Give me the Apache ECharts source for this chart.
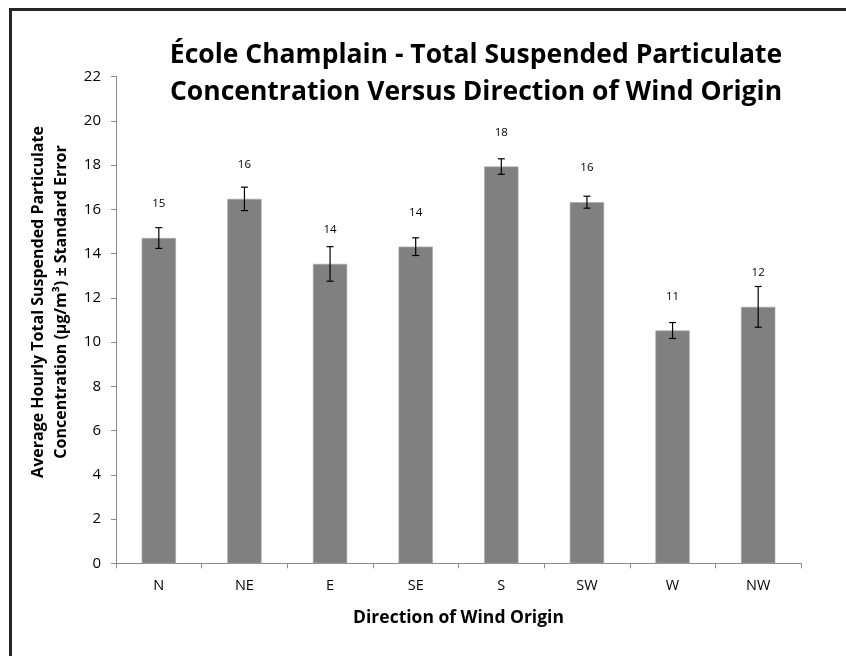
<!DOCTYPE html>
<html>
<head>
<meta charset="utf-8">
<script src="https://cdn.jsdelivr.net/npm/echarts@6/dist/echarts.min.js"></script>
<style>
html,body{margin:0;padding:0;background:#fff;}
#chart{width:846px;height:656px;}
</style>
</head>
<body>
<div id="chart"></div>
<script>
var categories = ['N', 'NE', 'E', 'SE', 'S', 'SW', 'W', 'NW'];
var meanValues = [14.70, 16.47, 13.53, 14.31, 17.93, 16.32, 10.52, 11.59];
var stdErrors = [0.47, 0.53, 0.78, 0.40, 0.35, 0.27, 0.36, 0.92];
var yTicks = [0, 2, 4, 6, 8, 10, 12, 14, 16, 18, 20, 22];

var titleLines = ['École Champlain - Total Suspended Particulate', 'Concentration Versus Direction of Wind Origin'];
var yTitleLines = ['Average Hourly Total Suspended Particulate', 'Concentration (µg/m³) ± Standard Error'];
var xTitle = 'Direction of Wind Origin';

var FONT = '"Open Sans", "DejaVu Sans", sans-serif';

var errData = categories.map(function (c, i) {
  return [i, meanValues[i] - stdErrors[i], meanValues[i] + stdErrors[i]];
});

var chart = echarts.init(document.getElementById('chart'), null, {renderer: 'canvas'});
chart.setOption({
  backgroundColor: '#ffffff',
  animation: false,
  title: {
    text: titleLines.join('\n'),
    left: 471, top: 32, textAlign: 'center',
    textStyle: {fontFamily: FONT, fontWeight: 'bold', fontSize: 26.5, color: '#000', lineHeight: 37}
  },
  grid: {left: 116, right: 45, top: 76.5, bottom: 92.7, containLabel: false},
  xAxis: {
    type: 'category',
    data: categories,
    name: xTitle,
    nameLocation: 'middle',
    nameGap: 46,
    nameTextStyle: {fontFamily: FONT, fontWeight: 'bold', fontSize: 17.5, color: '#000'},
    axisLine: {lineStyle: {color: '#8c8c8c', width: 1}},
    axisTick: {show: true, length: 5, lineStyle: {color: '#8c8c8c'}},
    axisLabel: {fontFamily: FONT, fontSize: 14.5, color: '#000', margin: 15},
    splitLine: {show: false}
  },
  yAxis: {
    type: 'value',
    min: yTicks[0], max: yTicks[yTicks.length - 1], interval: 2,
    axisLine: {show: true, lineStyle: {color: '#8c8c8c', width: 1}},
    axisTick: {show: true, length: 5, lineStyle: {color: '#8c8c8c'}},
    axisLabel: {fontFamily: FONT, fontSize: 15, color: '#000', margin: 15},
    splitLine: {show: false}
  },
  series: [
    {
      type: 'bar',
      data: meanValues,
      barCategoryGap: '60%',
      itemStyle: {color: '#808080', borderColor: '#a6a6a6', borderWidth: 0.6},
      label: {
        show: true, position: 'top', distance: 28,
        fontFamily: FONT, fontSize: 11.5, color: '#000',
        formatter: function (p) { return Math.round(p.value); }
      },
      z: 2
    },
    {
      type: 'custom',
      data: errData,
      z: 5,
      renderItem: function (params, api) {
        var x = api.value(0);
        var lo = api.coord([x, api.value(1)]);
        var hi = api.coord([x, api.value(2)]);
        var hw = 3.5;
        var st = {stroke: '#000', lineWidth: 1.2};
        return {
          type: 'group',
          children: [
            {type: 'line', shape: {x1: hi[0], y1: hi[1], x2: lo[0], y2: lo[1]}, style: st},
            {type: 'line', shape: {x1: hi[0] - hw, y1: hi[1], x2: hi[0] + hw, y2: hi[1]}, style: st},
            {type: 'line', shape: {x1: lo[0] - hw, y1: lo[1], x2: lo[0] + hw, y2: lo[1]}, style: st}
          ]
        };
      }
    }
  ],
  graphic: [
    {
      type: 'rect', left: 8, top: 7, z: -1,
      shape: {x: 0, y: 0, width: 860, height: 680},
      style: {fill: 'none', stroke: '#262626', lineWidth: 3}
    },
    {
      type: 'text',
      x: 50, y: 302,
      rotation: Math.PI / 2,
      style: {
        text: yTitleLines.join('\n'),
        fontFamily: FONT, fontWeight: 'bold', fontSize: 16, fill: '#000',
        align: 'center', verticalAlign: 'middle', lineHeight: 23
      }
    }
  ]
});
</script>
</body>
</html>
